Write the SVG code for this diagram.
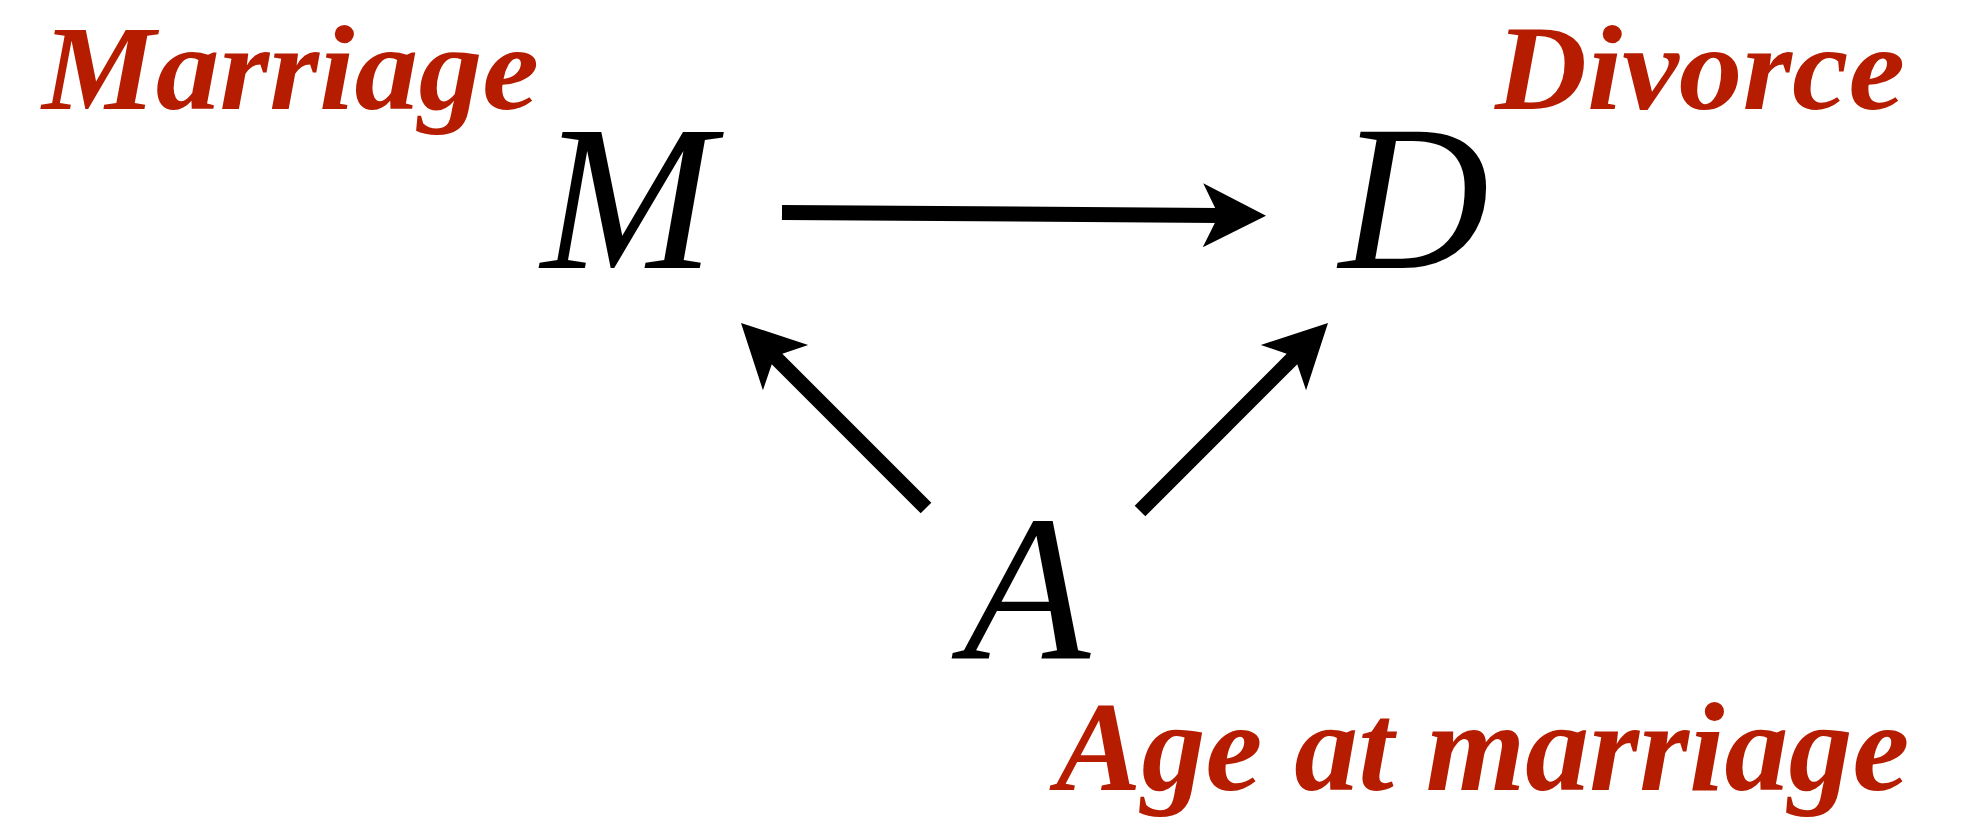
<svg xmlns="http://www.w3.org/2000/svg" xmlns:xlink="http://www.w3.org/1999/xlink" width="1973" height="822" viewBox="0 0 1973 822">
<style>
.var{font-family:"Liberation Serif","Times New Roman",serif;font-style:italic;font-size:208px;fill:#000}
.lbl{font-family:"Liberation Serif","Times New Roman",serif;font-style:italic;font-weight:bold;font-size:128px;fill:#B51C00}
.top{font-size:120px}
.shaft{stroke:#000;stroke-width:15;fill:none;stroke-linecap:butt}
</style>
<defs>
<path id="head" d="M0,0 L-63,-32 L-51,-7.5 L-51,7.5 L-63,32 Z" fill="#000"/>
</defs>
<rect width="1973" height="822" fill="#fff"/>
<g id="node-M">
<text class="lbl top" x="42" y="109" textLength="497" lengthAdjust="spacingAndGlyphs">Marriage</text>
<text class="var" x="541" y="268">M</text>
</g>
<g id="node-D">
<text class="lbl top" x="1495" y="109" textLength="410" lengthAdjust="spacingAndGlyphs">Divorce</text>
<text class="var" x="1339" y="268">D</text>
</g>
<g id="node-A">
<text class="var" x="963" y="658">A</text>
<text class="lbl" x="1056" y="790">Age at marriage</text>
</g>
<g id="connectors">
<line class="shaft" x1="782" y1="212.5" x2="1218" y2="215.4"/>
<use xlink:href="#head" transform="translate(1266,215.7) rotate(0.38)"/>
<line class="shaft" x1="926" y1="508" x2="775" y2="357"/>
<use xlink:href="#head" transform="translate(741,323) rotate(225)"/>
<line class="shaft" x1="1140" y1="511" x2="1294" y2="357"/>
<use xlink:href="#head" transform="translate(1328,323) rotate(-45)"/>
</g>
</svg>
